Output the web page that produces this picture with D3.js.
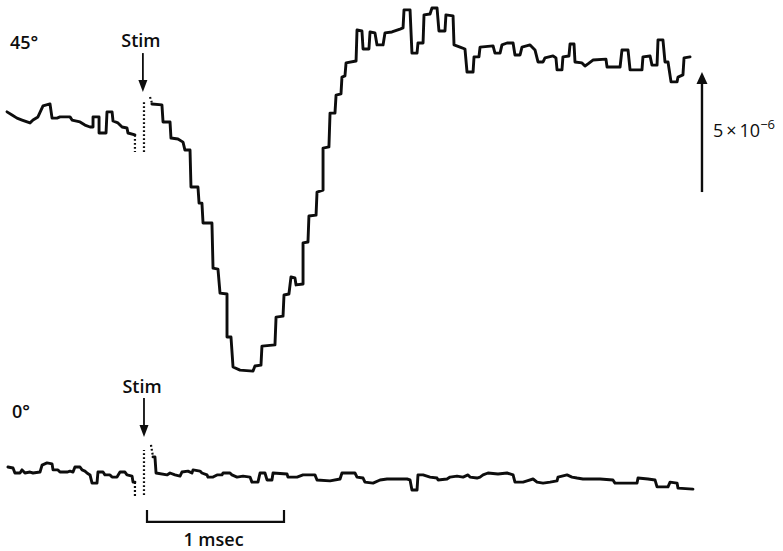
<!DOCTYPE html>
<html><head><meta charset="utf-8">
<script src="https://cdn.jsdelivr.net/npm/d3@7"></script>
<style>body{margin:0;background:#fff}svg{display:block}</style>
</head><body>
<svg id="c" width="783" height="551"></svg>
<script>
// time in ms (stimulus at ~0), amplitude in units of 1e-6
const labels45 = "45°", labels0 = "0°", stimLabel = "Stim", timeBarLabel = "1 msec";
const ampScaleValue = 5; // 5 x 10^-6

const top45Pre = [[-1.022,0.13],[-0.985,0],[-0.949,-0.13],[-0.912,-0.21],[-0.854,-0.33],[-0.832,-0.21],[-0.796,-0.08],[-0.759,0.38],[-0.708,0.46],[-0.693,-0.13],[-0.657,-0.13],[-0.635,-0.08],[-0.562,-0.08],[-0.547,-0.21],[-0.489,-0.29],[-0.453,-0.42],[-0.416,-0.50],[-0.394,-0.50],[-0.394,-0.08],[-0.350,-0.08],[-0.350,-0.75],[-0.299,-0.75],[-0.292,0.13],[-0.255,0.13],[-0.248,-0.25],[-0.212,-0.33],[-0.182,-0.50],[-0.146,-0.54],[-0.139,-0.75],[-0.088,-0.83]];
const top45Dotted = [[[-0.088,-0.83],[-0.088,-1.54]],[[-0.022,-1.54],[-0.022,0.63]],[[0.022,0.75],[0.036,0.50]]];
const top45Post = [[0.036,0.46],[0.109,0.42],[0.117,-0.29],[0.168,-0.29],[0.175,-0.96],[0.226,-1.00],[0.263,-1.13],[0.277,-1.46],[0.314,-1.46],[0.321,-3.00],[0.372,-3.00],[0.380,-3.67],[0.401,-3.67],[0.409,-4.50],[0.474,-4.50],[0.482,-6.38],[0.518,-6.42],[0.533,-7.42],[0.584,-7.46],[0.584,-9.25],[0.613,-9.25],[0.628,-10.50],[0.679,-10.63],[0.774,-10.67],[0.788,-10.46],[0.832,-10.42],[0.839,-9.63],[0.934,-9.58],[0.942,-8.42],[0.993,-8.38],[1.000,-7.50],[1.036,-7.46],[1.051,-6.75],[1.080,-6.79],[1.088,-7.08],[1.139,-7.04],[1.139,-5.33],[1.175,-5.29],[1.182,-4.21],[1.234,-4.17],[1.241,-3.21],[1.285,-3.13],[1.285,-1.38],[1.328,-1.33],[1.336,0.08],[1.372,0.08],[1.380,0.83],[1.416,0.88],[1.423,1.58],[1.445,1.63],[1.453,2.17],[1.526,2.25],[1.533,3.54],[1.569,3.50],[1.577,2.75],[1.620,2.75],[1.628,3.46],[1.664,3.42],[1.679,2.92],[1.723,2.92],[1.737,3.42],[1.788,3.46],[1.847,3.58],[1.869,3.63],[1.876,4.38],[1.920,4.38],[1.934,2.58],[1.971,2.58],[1.978,3.00],[2.015,3.00],[2.022,4.17],[2.066,4.21],[2.080,4.46],[2.117,4.46],[2.131,3.50],[2.175,3.50],[2.182,4.17],[2.234,4.13],[2.241,2.92],[2.285,2.83],[2.321,2.75],[2.336,1.79],[2.380,1.79],[2.387,2.42],[2.423,2.42],[2.431,2.83],[2.526,2.88],[2.540,2.58],[2.577,2.58],[2.591,2.92],[2.628,3.00],[2.672,3.00],[2.686,2.50],[2.723,2.50],[2.737,2.83],[2.796,2.92],[2.832,2.71],[2.854,2.21],[2.891,2.21],[2.905,2.38],[2.964,2.46],[2.985,2.38],[2.993,1.88],[3.029,1.88],[3.036,2.42],[3.080,2.46],[3.088,2.96],[3.117,2.96],[3.124,2.21],[3.175,2.17],[3.197,2.04],[3.219,2.13],[3.255,2.29],[3.350,2.33],[3.358,2.00],[3.453,2.00],[3.467,2.71],[3.511,2.71],[3.526,1.88],[3.613,1.88],[3.620,2.42],[3.672,2.46],[3.686,2.08],[3.723,2.08],[3.730,3.13],[3.766,3.13],[3.781,2.21],[3.803,2.21],[3.825,1.38],[3.869,1.38],[3.876,1.58],[3.912,1.67],[3.920,2.38],[3.964,2.42]];

const bot0Pre = [[-1.015,0.25],[-0.978,0.21],[-0.964,0],[-0.927,0],[-0.912,0.13],[-0.891,0],[-0.854,0.04],[-0.832,0],[-0.781,0.04],[-0.766,0.33],[-0.730,0.42],[-0.693,0.38],[-0.686,0.13],[-0.650,0.13],[-0.635,0.04],[-0.584,0.04],[-0.562,0.08],[-0.540,0.04],[-0.526,0.25],[-0.489,0.25],[-0.474,0.13],[-0.453,0.08],[-0.438,0],[-0.416,-0.08],[-0.401,-0.42],[-0.365,-0.42],[-0.358,0.04],[-0.321,0.04],[-0.307,-0.08],[-0.270,-0.08],[-0.255,-0.17],[-0.219,-0.17],[-0.197,0.04],[-0.161,0.04],[-0.146,-0.08],[-0.109,-0.13],[-0.102,-0.38],[-0.088,-0.38]];
const bot0Dotted = [[[-0.088,-0.38],[-0.088,-1.00]],[[-0.022,-0.92],[-0.022,0.96]],[[0.029,1.17],[0.044,0.67]]];
const bot0Post = [[0.044,0.67],[0.058,0.67],[0.066,0],[0.146,-0.08],[0.168,0],[0.204,-0.08],[0.241,-0.13],[0.255,0.04],[0.299,0.08],[0.328,0],[0.336,0.13],[0.387,0.08],[0.401,0],[0.438,-0.08],[0.445,-0.17],[0.482,-0.17],[0.511,-0.08],[0.547,-0.08],[0.555,0],[0.606,0],[0.620,-0.08],[0.657,-0.17],[0.701,-0.13],[0.752,-0.17],[0.766,-0.38],[0.810,-0.38],[0.825,0],[0.861,0],[0.876,-0.29],[0.912,-0.29],[0.920,0],[1.022,-0.04],[1.029,-0.17],[1.095,-0.17],[1.139,-0.08],[1.226,-0.08],[1.241,-0.29],[1.336,-0.33],[1.409,-0.25],[1.423,0],[1.518,0],[1.533,-0.17],[1.577,-0.21],[1.591,-0.38],[1.650,-0.42],[1.701,-0.29],[1.752,-0.25],[1.898,-0.25],[1.920,-0.29],[1.934,-0.71],[1.971,-0.71],[1.978,-0.08],[2.015,-0.08],[2.066,-0.17],[2.117,-0.21],[2.124,-0.29],[2.190,-0.25],[2.212,-0.17],[2.263,-0.13],[2.307,-0.17],[2.343,-0.08],[2.358,-0.17],[2.409,-0.21],[2.431,-0.17],[2.453,-0.08],[2.489,0],[2.562,-0.04],[2.628,0],[2.672,-0.08],[2.686,-0.38],[2.745,-0.38],[2.774,-0.33],[2.818,-0.25],[2.847,-0.38],[2.891,-0.42],[2.942,-0.38],[2.993,-0.33],[3.000,-0.17],[3.066,-0.08],[3.102,-0.17],[3.139,-0.21],[3.182,-0.25],[3.307,-0.25],[3.401,-0.29],[3.416,-0.42],[3.577,-0.42],[3.584,-0.21],[3.657,-0.25],[3.708,-0.29],[3.723,-0.58],[3.803,-0.58],[3.818,-0.38],[3.869,-0.42],[3.876,-0.63],[3.985,-0.67]];

const svg = d3.select("#c");
const x = d3.scaleLinear().domain([0, 1]).range([147, 284]);
const yTop = d3.scaleLinear().domain([0, 5]).range([115, -5]);
const yBot = d3.scaleLinear().domain([0, 5]).range([473, 353]);
const font = "'Open Sans', 'DejaVu Sans', sans-serif";
const ink = "#0d0d0d";

function drawTrace(pre, dotted, post, y) {
  const line = d3.line().x(d => x(d[0])).y(d => y(d[1]));
  [pre, post].forEach(p => svg.append("path").attr("d", line(p))
    .attr("fill", "none").attr("stroke", ink).attr("stroke-width", 2.9)
    .attr("stroke-linejoin", "round").attr("stroke-linecap", "round"));
  dotted.forEach(p => svg.append("path").attr("d", line(p))
    .attr("fill", "none").attr("stroke", ink).attr("stroke-width", 2.2)
    .attr("stroke-dasharray", "1.8,2.2"));
}
drawTrace(top45Pre, top45Dotted, top45Post, yTop);
drawTrace(bot0Pre, bot0Dotted, bot0Post, yBot);

// Stim arrows
function stim(tx, yFrom, yTo, labelY) {
  const px = x(tx);
  svg.append("line").attr("x1", px).attr("x2", px).attr("y1", yFrom).attr("y2", yTo - 8)
    .attr("stroke", ink).attr("stroke-width", 1.8);
  svg.append("path").attr("d", `M${px-4.5},${yTo-12}L${px+4.5},${yTo-12}L${px},${yTo}Z`).attr("fill", ink);
  svg.append("text").attr("x", px - 2).attr("y", labelY).attr("text-anchor", "middle")
    .attr("font-family", font).attr("font-size", 18).attr("font-weight", 600).attr("fill", ink).text(stimLabel);
}
stim(-0.03, yTop(2.58), yTop(0.96), 47);
stim(-0.022, yBot(3.13), yBot(1.5), 393);

// labels
svg.append("text").attr("x", 10).attr("y", 49).attr("font-family", font).attr("font-size", 18)
  .attr("font-weight", 600).attr("fill", ink).text(labels45);
svg.append("text").attr("x", 12).attr("y", 418).attr("font-family", font).attr("font-size", 18)
  .attr("font-weight", 600).attr("fill", ink).text(labels0);

// amplitude scale arrow
const ax = x(4.051), aBase = -3.21;
svg.append("line").attr("x1", ax).attr("x2", ax).attr("y1", yTop(aBase)).attr("y2", yTop(aBase + ampScaleValue) + 8)
  .attr("stroke", ink).attr("stroke-width", 2.4);
svg.append("path").attr("d", `M${ax-5.5},${yTop(aBase+ampScaleValue)+12}L${ax+5.5},${yTop(aBase+ampScaleValue)+12}L${ax},${yTop(aBase+ampScaleValue)}Z`).attr("fill", ink);
const at = svg.append("text").attr("x", 713).attr("y", 137).attr("font-family", font).attr("font-size", 18)
  .attr("font-weight", 500).attr("fill", ink);
at.append("tspan").text(ampScaleValue + "\u2009×\u200910");
at.append("tspan").attr("dy", -8).attr("font-size", 13).text("−6");

// time scale bar
const tb = yBot(-2.04);
svg.append("path").attr("d", `M${x(0)},${tb-12}V${tb}H${x(1)}V${tb-12}`).attr("fill", "none")
  .attr("stroke", ink).attr("stroke-width", 2.2);
svg.append("text").attr("x", (x(0) + x(1)) / 2 - 2).attr("y", 546).attr("text-anchor", "middle")
  .attr("font-family", font).attr("font-size", 18).attr("font-weight", 600).attr("fill", ink).text(timeBarLabel);
</script>
</body></html>
